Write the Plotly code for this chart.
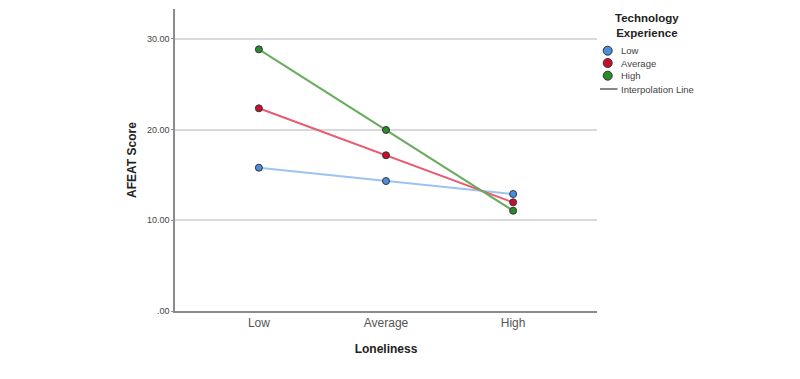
import plotly.graph_objects as go

categories = ["Low", "Average", "High"]
low_values = [15.8, 14.33, 12.9]
average_values = [22.35, 17.17, 11.98]
high_values = [28.85, 19.96, 11.06]
series_names = ["Low", "Average", "High"]
y_tickvals = [0, 10, 20, 30]
y_ticktext = [".00", "10.00", "20.00", "30.00"]

line_colors = ["#9cc3f2", "#ea5a70", "#6aab5f"]
marker_colors = ["#4a8fdc", "#c8102e", "#2b8a2b"]

FONT = "Arial, Liberation Sans, sans-serif"
W, H = 800, 379
L, R, T, B = 175, 203, 9, 68
PW, PH = W - L - R, H - T - B

def px2x(px):
    return (px - L) / PW

def py2y(py):
    return (H - B - py) / PH

fig = go.Figure()
for name, vals, lc, mc in zip(series_names, [low_values, average_values, high_values], line_colors, marker_colors):
    fig.add_trace(go.Scatter(
        x=categories, y=vals, mode="lines+markers", name=name,
        line=dict(color=lc, width=2),
        marker=dict(color=mc, size=7, line=dict(color="#333333", width=1)),
        showlegend=False,
    ))

fig.update_layout(
    width=W, height=H,
    margin=dict(l=L, r=R, t=T, b=B),
    paper_bgcolor="white", plot_bgcolor="white",
    font=dict(family=FONT, color="#333333"),
    xaxis=dict(
        type="category", range=[-0.66, 2.66],
        showline=True, linecolor="#8c8c8c", linewidth=1.5,
        showgrid=False, ticks="", zeroline=False,
        tickfont=dict(size=12, color="#555555"),
        title=dict(text="<b>Loneliness</b>", font=dict(size=12, color="#222222"), standoff=15),
    ),
    yaxis=dict(
        range=[0, 33.3],
        tickvals=y_tickvals, ticktext=y_ticktext,
        showline=True, linecolor="#8c8c8c", linewidth=1.5,
        showgrid=True, gridcolor="#d9d9d9", gridwidth=1.5,
        zeroline=False, ticks="outside", ticklen=2, tickcolor="#8c8c8c",
        tickfont=dict(size=9, color="#444444"),
        title=dict(text="<b>AFEAT Score</b>", font=dict(size=12, color="#222222"), standoff=8),
    ),
)

# Legend (drawn manually for compact spacing)
fig.add_annotation(
    x=px2x(647), y=py2y(26), xref="paper", yref="paper",
    text="<b>Technology<br>Experience</b>", showarrow=False,
    font=dict(size=11.5, color="#222222", family=FONT), align="center",
    xanchor="center", yanchor="middle",
)
legend_y = [50.7, 63, 75.7]
for name, mc, ly in zip(series_names, marker_colors, legend_y):
    fig.add_shape(
        type="circle", xref="paper", yref="paper",
        xsizemode="pixel", ysizemode="pixel",
        xanchor=px2x(607.7), yanchor=py2y(ly),
        x0=-4.5, x1=4.5, y0=-4.5, y1=4.5,
        fillcolor=mc, line=dict(color="#333333", width=1),
    )
    fig.add_annotation(
        x=px2x(619), y=py2y(ly), xref="paper", yref="paper",
        text=name, showarrow=False, xanchor="left", yanchor="middle",
        font=dict(size=9.5, color="#444444", family=FONT),
    )
fig.add_shape(
    type="line", xref="paper", yref="paper",
    x0=px2x(600), x1=px2x(617.5), y0=py2y(89), y1=py2y(89),
    line=dict(color="#888888", width=2),
)
fig.add_annotation(
    x=px2x(619), y=py2y(89), xref="paper", yref="paper",
    text="Interpolation Line", showarrow=False, xanchor="left", yanchor="middle",
    font=dict(size=9.5, color="#444444", family=FONT),
)

fig.write_html("out.html")
